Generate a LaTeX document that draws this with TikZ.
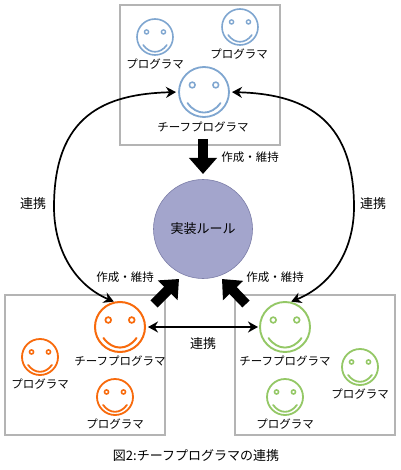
\documentclass[tikz,border=0pt]{standalone}
\usepackage{fontspec}
\setmainfont{Noto Sans CJK JP}
\usetikzlibrary{arrows.meta,calc}
\definecolor{sblue}{HTML}{7FA6D0}
\definecolor{sorange}{HTML}{F86A0C}
\definecolor{sgreen}{HTML}{94C866}
\definecolor{boxgray}{HTML}{B4B4B4}
\definecolor{rulefill}{HTML}{A3A5CC}
\definecolor{ruleline}{HTML}{7C7EA8}
% name, position, radius, colour, line width
\newcommand{\smileyface}[5]{%
  \node[circle,draw=#4,line width=#5,minimum size=#3*2pt,inner sep=0pt,outer sep=0pt] (#1) at (#2) {};
  \begin{scope}[shift={(#2)},scale=#3,line width=0.85*#5,draw=#4]
    \draw (-0.47,-0.28) circle[radius=0.115];
    \draw (0.47,-0.28) circle[radius=0.115];
    \draw[line width=#5,line cap=round] (-0.66,0.44) .. controls (-0.3,0.95) and (0.3,0.95) .. (0.66,0.44);
  \end{scope}
}
\tikzset{
  frame/.style={draw=boxgray,line width=1.2pt,minimum width=160pt,minimum height=140pt,inner sep=0pt},
  lbl/.style={inner sep=0pt,font=\fontsize{11.5}{12}\selectfont},
  biglbl/.style={inner sep=0pt,font=\fontsize{13}{14}\selectfont},
  link/.style={line width=1.7pt,{Stealth[length=10pt,width=11pt]}-{Stealth[length=10pt,width=11pt]}},
  block/.style={line width=10pt,-{Triangle[length=16pt,width=27pt]}},
}
\begin{document}
\begin{tikzpicture}[x=1pt,y=-1pt]
\useasboundingbox (0,0) rectangle (400,470);
\fill[white] (0,0) rectangle (400,470);
\node[frame] (boxT) at (200,75) {};
\node[frame] (boxL) at (85,365) {};
\node[frame] (boxR) at (315,365) {};
\node[circle,fill=rulefill,draw=ruleline,line width=0.6pt,minimum size=99pt,inner sep=0pt,biglbl] (rule) at (203,229) {実装ルール};

\smileyface{chiefT}{204,92}{25}{sblue}{1.8pt}
\smileyface{progTa}{155,37}{18}{sblue}{1.6pt}
\smileyface{progTb}{240,27}{18}{sblue}{1.6pt}
\smileyface{chiefL}{120,327}{25}{sorange}{2pt}
\smileyface{progLa}{40,357}{18}{sorange}{1.8pt}
\smileyface{progLb}{115,397}{18}{sorange}{1.8pt}
\smileyface{chiefR}{285,327}{25}{sgreen}{1.9pt}
\smileyface{progRa}{360,367}{18}{sgreen}{1.8pt}
\smileyface{progRb}{285,397}{18}{sgreen}{1.8pt}

\node[lbl] (tChiefT) at (203,127) {チーフプログラマ};
\node[lbl] (tProgTa) at (155,64) {プログラマ};
\node[lbl] (tProgTb) at (239,54) {プログラマ};
\node[lbl] (tChiefL) at (120,361) {チーフプログラマ};
\node[lbl] (tProgLa) at (40,384) {プログラマ};
\node[lbl] (tProgLb) at (115,424) {プログラマ};
\node[lbl] (tChiefR) at (285,361) {チーフプログラマ};
\node[lbl] (tProgRa) at (360,394) {プログラマ};
\node[lbl] (tProgRb) at (285,424) {プログラマ};

\node[lbl] (mT) at (250,157) {作成・維持};
\node[lbl] (mL) at (125,277) {作成・維持};
\node[lbl] (mR) at (275,277) {作成・維持};
\node[biglbl] (rA) at (33,204) {連携};
\node[biglbl] (rB) at (373,204) {連携};
\node[biglbl] (rC) at (203,344) {連携};
\node[biglbl] (cap) at (196,456) {図2:チーフプログラマの連携};

\draw[link,shorten <=3pt,shorten >=2pt] (chiefT.west) .. controls (105,94) and (54,115) .. (54,207) .. controls (54,250) and (75,285) .. (chiefL.100);
\draw[link,shorten <=3pt,shorten >=2pt] (chiefT.east) .. controls (300,94) and (354,115) .. (354,207) .. controls (354,250) and (332,285) .. (chiefR.80);
\draw[link,shorten <=3pt,shorten >=2pt] (chiefL.east) -- (chiefR.west);

\coordinate (bT) at (203,139);
\coordinate (bTt) at (203,174);
\coordinate (bL) at (154,304);
\coordinate (bLt) at (179,279);
\coordinate (bR) at (246,304);
\coordinate (bRt) at (222,279);
\draw[block] (bT) -- (bTt);
\draw[block] (bL) -- (bLt);
\draw[block] (bR) -- (bRt);
\end{tikzpicture}
\end{document}
